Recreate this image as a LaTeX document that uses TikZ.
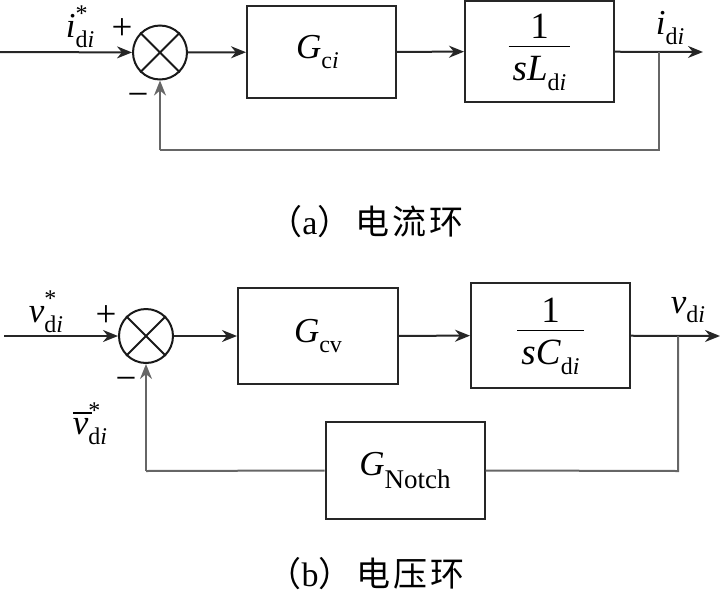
\documentclass[tikz,border=0pt]{standalone}
\usepackage{fontspec}
\setmainfont{Liberation Serif}
\newfontfamily\cjk{Noto Sans CJK SC}
\usetikzlibrary{arrows.meta}
\newcommand\smallf{\fontsize{24}{26}\selectfont}
\newcommand\subdi{\raisebox{-0.28em}{\smallf d\textit{i}}}
\newcommand\starsubdi{\rlap{\raisebox{0.45em}{\smallf *}}\raisebox{-0.28em}{\smallf d\textit{i}}}
\begin{document}
\begin{tikzpicture}[x=1pt,y=-1pt,
  every node/.style={font=\fontsize{35}{38}\selectfont, inner sep=0pt},
  blockbox/.style={draw=black!85, line width=2pt, minimum width=#1},
  sumnode/.style={draw=black!90, line width=2pt, circle, minimum size=54pt},
  sig/.style={line width=2pt, draw=black!85, -{Stealth[length=15pt,width=12pt]}},
  fb/.style={line width=2pt, draw=black!60},
  fbarrow/.style={line width=2pt, draw=black!60, -{Stealth[length=15pt,width=12pt]}},
  lab/.style={font=\fontsize{35}{38}\selectfont},
  frac/.style={font=\fontsize{37}{40}\selectfont},
  pm/.style={font=\fontsize{37}{39}\selectfont},
  capt/.style={font=\fontsize{34}{36}\selectfont}]
\useasboundingbox (0,0) rectangle (721,595);

% ---------------- (a) current loop ----------------
\coordinate (ain) at (0,52);
\node[sumnode] (s1) at (160,52.5) {};
\draw[line width=1.8pt, black!90] (s1.north east) -- (s1.south west) (s1.north west) -- (s1.south east);
\node[blockbox=149pt, minimum height=92pt] (gci) at (321.5,52) {\hspace*{-8pt}\textit{G}\raisebox{-0.28em}{\smallf c\textit{i}}};
\node[blockbox=149pt, minimum height=101pt, frac] (pl) at (539.5,51.5)
  {\renewcommand\arraystretch{1.0}\begin{tabular}{@{\hspace{4pt}}c@{\hspace{4pt}}}1\\[-5pt]\hline \rule{0pt}{34pt}\textit{sL}\subdi\end{tabular}};
\coordinate (aout) at (703,52);
\coordinate (abr) at (659,52);
\coordinate (afb) at (659,150);
\coordinate (afb2) at (160,150);
\draw[sig] (ain) -- (s1);
\draw[sig] (s1) -- (gci);
\draw[sig] (gci) -- (pl);
\draw[sig] (pl) -- (aout);
\draw[fb] (abr) -- (afb) -- (afb2);
\draw[fbarrow] (afb2) -- (s1);
\node[lab] (la1) at (80,27) {\textit{i}\starsubdi};
\node[pm] (lp1) at (122,29) {+};
\node[pm] (lm1) at (138,100) {\textminus};
\node[lab] (lo1) at (670,28) {\textit{i}\subdi};
\node[capt] (cap1) at (366,222) {{\cjk （}a{\cjk ）\hspace{4pt}电\hspace{3pt}流\hspace{3pt}环}};

% ---------------- (b) voltage loop ----------------
\coordinate (bin) at (4,336);
\node[sumnode] (s2) at (146,336) {};
\draw[line width=1.8pt, black!90] (s2.north east) -- (s2.south west) (s2.north west) -- (s2.south east);
\node[blockbox=160pt, minimum height=96pt] (gcv) at (318,336) {\textit{G}\raisebox{-0.28em}{\smallf cv}};
\node[blockbox=159pt, minimum height=105pt, frac] (pc) at (550.5,335.5)
  {\renewcommand\arraystretch{1.0}\begin{tabular}{@{\hspace{4pt}}c@{\hspace{4pt}}}1\\[-5pt]\hline \rule{0pt}{34pt}\textit{sC}\subdi\end{tabular}};
\node[blockbox=159pt, minimum height=97pt] (gn) at (405,470.5) {\textit{G}\raisebox{-0.35em}{\fontsize{27}{29}\selectfont Notch}};
\coordinate (bout) at (720,336);
\coordinate (bbr) at (678,336);
\coordinate (bfb) at (678,471);
\coordinate (bfb2) at (146,471);
\draw[sig] (bin) -- (s2);
\draw[sig] (s2) -- (gcv);
\draw[sig] (gcv) -- (pc);
\draw[sig] (pc) -- (bout);
\draw[fb] (bbr) -- (bfb) -- (gn.east);
\draw[fb] (gn.west) -- (bfb2);
\draw[fbarrow] (bfb2) -- (s2);
\node[lab] (la2) at (46,312) {\textit{v}\starsubdi};
\node[pm] (lp2) at (106,316) {+};
\node[pm] (lm2) at (126,384) {\textminus};
\node[lab] (lf2) at (90,424) {\rlap{\raisebox{0.6em}{\rule{19pt}{1.4pt}}}\textit{v}\starsubdi};
\node[lab] (lo2) at (688,310) {\textit{v}\subdi};
\node[capt] (cap2) at (366,574) {{\cjk （}b{\cjk ）\hspace{4pt}电\hspace{3pt}压\hspace{3pt}环}};
\end{tikzpicture}
\end{document}
